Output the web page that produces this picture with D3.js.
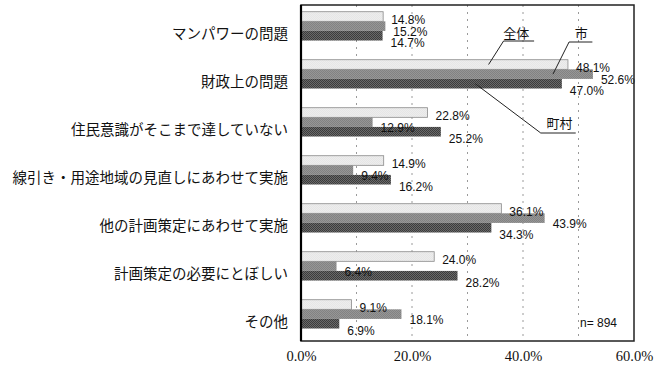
<!DOCTYPE html>
<html>
<head>
<meta charset="utf-8">
<script src="https://cdn.jsdelivr.net/npm/d3@7"></script>
<style>
  body { margin: 0; background: #fff; }
  svg { display: block; }
</style>
</head>
<body>
<div id="chart"></div>
<script>
// data
var categories = ["マンパワーの問題", "財政上の問題", "住民意識がそこまで達していない",
    "線引き・用途地域の見直しにあわせて実施", "他の計画策定にあわせて実施",
    "計画策定の必要にとぼしい", "その他"];
var seriesNames = ["全体", "市", "町村"];
var zentai = [14.8, 48.1, 22.8, 14.9, 36.1, 24.0, 9.1];
var shi    = [15.2, 52.6, 12.9, 9.4, 43.9, 6.4, 18.1];
var chouson = [14.7, 47.0, 25.2, 16.2, 34.3, 28.2, 6.9];
var xTicks = [0, 20, 40, 60];
var gridTicks = [10, 20, 30, 40, 50];
var sampleNote = "n= 894";

var width = 662, height = 373;
var mLeft = 301, mRight = 634, mTop = 5, mBottom = 341;

var svg = d3.select("#chart").append("svg")
    .attr("width", width)
    .attr("height", height);

// textures for the three series
var defs = svg.append("defs");
function checker(id, a, b, size) {
    var p = defs.append("pattern")
        .attr("id", id)
        .attr("patternUnits", "userSpaceOnUse")
        .attr("width", size * 2).attr("height", size * 2);
    p.append("rect").attr("width", size * 2).attr("height", size * 2).attr("fill", a);
    p.append("rect").attr("width", size).attr("height", size).attr("fill", b);
    p.append("rect").attr("x", size).attr("y", size).attr("width", size).attr("height", size).attr("fill", b);
}
checker("pAll", "#f1f1f1", "#e2e2e2", 1);
checker("pCity", "#a2a2a2", "#767676", 1);
checker("pTown", "#858585", "#202020", 1);
var fills = ["url(#pAll)", "url(#pCity)", "url(#pTown)"];
var strokes = ["#8a8a8a", "none", "none"];

var x = d3.scaleLinear().domain([0, 60]).range([mLeft, mRight]);
var y = d3.scaleBand().domain(categories).range([mTop, mBottom])
    .paddingInner(0.4).paddingOuter(0.2).align(0.35);
var ySub = d3.scaleBand().domain(seriesNames).range([0, y.bandwidth()]);

var rows = categories.map(function (c, i) {
    return { cat: c, values: [zentai[i], shi[i], chouson[i]] };
});

// grid
svg.append("g").selectAll("line")
    .data(gridTicks)
    .enter().append("line")
    .attr("x1", function (d) { return x(d); })
    .attr("x2", function (d) { return x(d); })
    .attr("y1", mTop).attr("y2", mBottom)
    .attr("stroke", "#9a9a9a")
    .attr("stroke-width", 1)
    .attr("stroke-dasharray", "2,5");

// bars
var g = svg.selectAll(".grp")
    .data(rows)
    .enter().append("g")
    .attr("class", "grp")
    .attr("transform", function (d) { return "translate(0," + y(d.cat) + ")"; });

g.selectAll("rect")
    .data(function (d) { return d.values.map(function (v, j) { return { v: v, s: seriesNames[j], j: j }; }); })
    .enter().append("rect")
    .attr("x", x(0))
    .attr("y", function (d) { return ySub(d.s); })
    .attr("width", function (d) { return x(d.v) - x(0); })
    .attr("height", ySub.bandwidth())
    .attr("fill", function (d) { return fills[d.j]; })
    .attr("stroke", function (d) { return strokes[d.j]; })
    .attr("stroke-width", 0.8);

// value labels sit a little lower and spread wider than the bars
var mid = y.bandwidth() / 2;
g.selectAll("text")
    .data(function (d) { return d.values.map(function (v, j) { return { v: v, j: j }; }); })
    .enter().append("text")
    .attr("x", function (d) { return x(d.v) + 8; })
    .attr("y", function (d) { return mid + 5.5 + (d.j - 1) * 11.5; })
    .attr("dominant-baseline", "central")
    .attr("font-family", "Liberation Sans, Arial, sans-serif")
    .attr("font-size", 12)
    .attr("fill", "#111")
    .text(function (d) { return d.v.toFixed(1) + "%"; });

// category labels
svg.append("g").selectAll("text")
    .data(categories)
    .enter().append("text")
    .attr("x", 288)
    .attr("y", function (d) { return y(d) + y.bandwidth() / 2 + 6; })
    .attr("dominant-baseline", "central")
    .attr("text-anchor", "end")
    .attr("font-family", "Noto Sans CJK JP, sans-serif")
    .attr("font-size", 14.5)
    .attr("fill", "#111")
    .text(function (d) { return d; });

// frame
svg.append("rect")
    .attr("x", mLeft).attr("y", mTop)
    .attr("width", mRight - mLeft).attr("height", mBottom - mTop)
    .attr("fill", "none")
    .attr("stroke", "#222")
    .attr("stroke-width", 1.5);
svg.append("line")
    .attr("x1", mLeft).attr("x2", mLeft)
    .attr("y1", mTop).attr("y2", mBottom)
    .attr("stroke", "#000").attr("stroke-width", 2.2);

// x axis labels
var xAxis = d3.axisBottom(x).tickValues(xTicks)
    .tickFormat(function (d) { return d.toFixed(1) + "%"; })
    .tickSize(0).tickPadding(10);
var ax = svg.append("g")
    .attr("transform", "translate(0," + mBottom + ")")
    .call(xAxis);
ax.select(".domain").remove();
ax.selectAll("text")
    .attr("font-family", "Liberation Serif, DejaVu Serif, serif")
    .attr("font-size", 14.5)
    .attr("fill", "#111");

// series annotations (callouts on the 財政上の問題 group)
var callouts = [
    { name: "全体", s: 0, at: 33.8, elbow: [36.5, 41], end: 42, tx: 38.8, ty: 32 },
    { name: "市", s: 1, at: 45.4, elbow: [48.3, 42], end: 52.5, tx: 50.5, ty: 32 },
    { name: "町村", s: 2, at: 31.4, elbow: [43.2, 133], end: 49.5, tx: 46.6, ty: 122 }
];
var cat2 = categories[1];
var ann = svg.append("g");
callouts.forEach(function (c) {
    var by = y(cat2) + ySub(seriesNames[c.s]) + ySub.bandwidth() / 2;
    ann.append("polyline")
        .attr("points", [[x(c.at), by], [x(c.elbow[0]), c.elbow[1]], [x(c.end), c.elbow[1]]].join(" "))
        .attr("fill", "none")
        .attr("stroke", "#222")
        .attr("stroke-width", 1);
    ann.append("text")
        .attr("x", x(c.tx))
        .attr("y", c.ty)
        .attr("text-anchor", "middle")
        .attr("dominant-baseline", "central")
        .attr("font-family", "Noto Sans CJK JP, sans-serif")
        .attr("font-size", 13)
        .attr("fill", "#111")
        .text(c.name);
});

svg.append("text")
    .attr("x", 580).attr("y", 327)
    .attr("font-family", "Liberation Sans, Arial, sans-serif")
    .attr("font-size", 12)
    .attr("fill", "#111")
    .text(sampleNote);
</script>
</body>
</html>
